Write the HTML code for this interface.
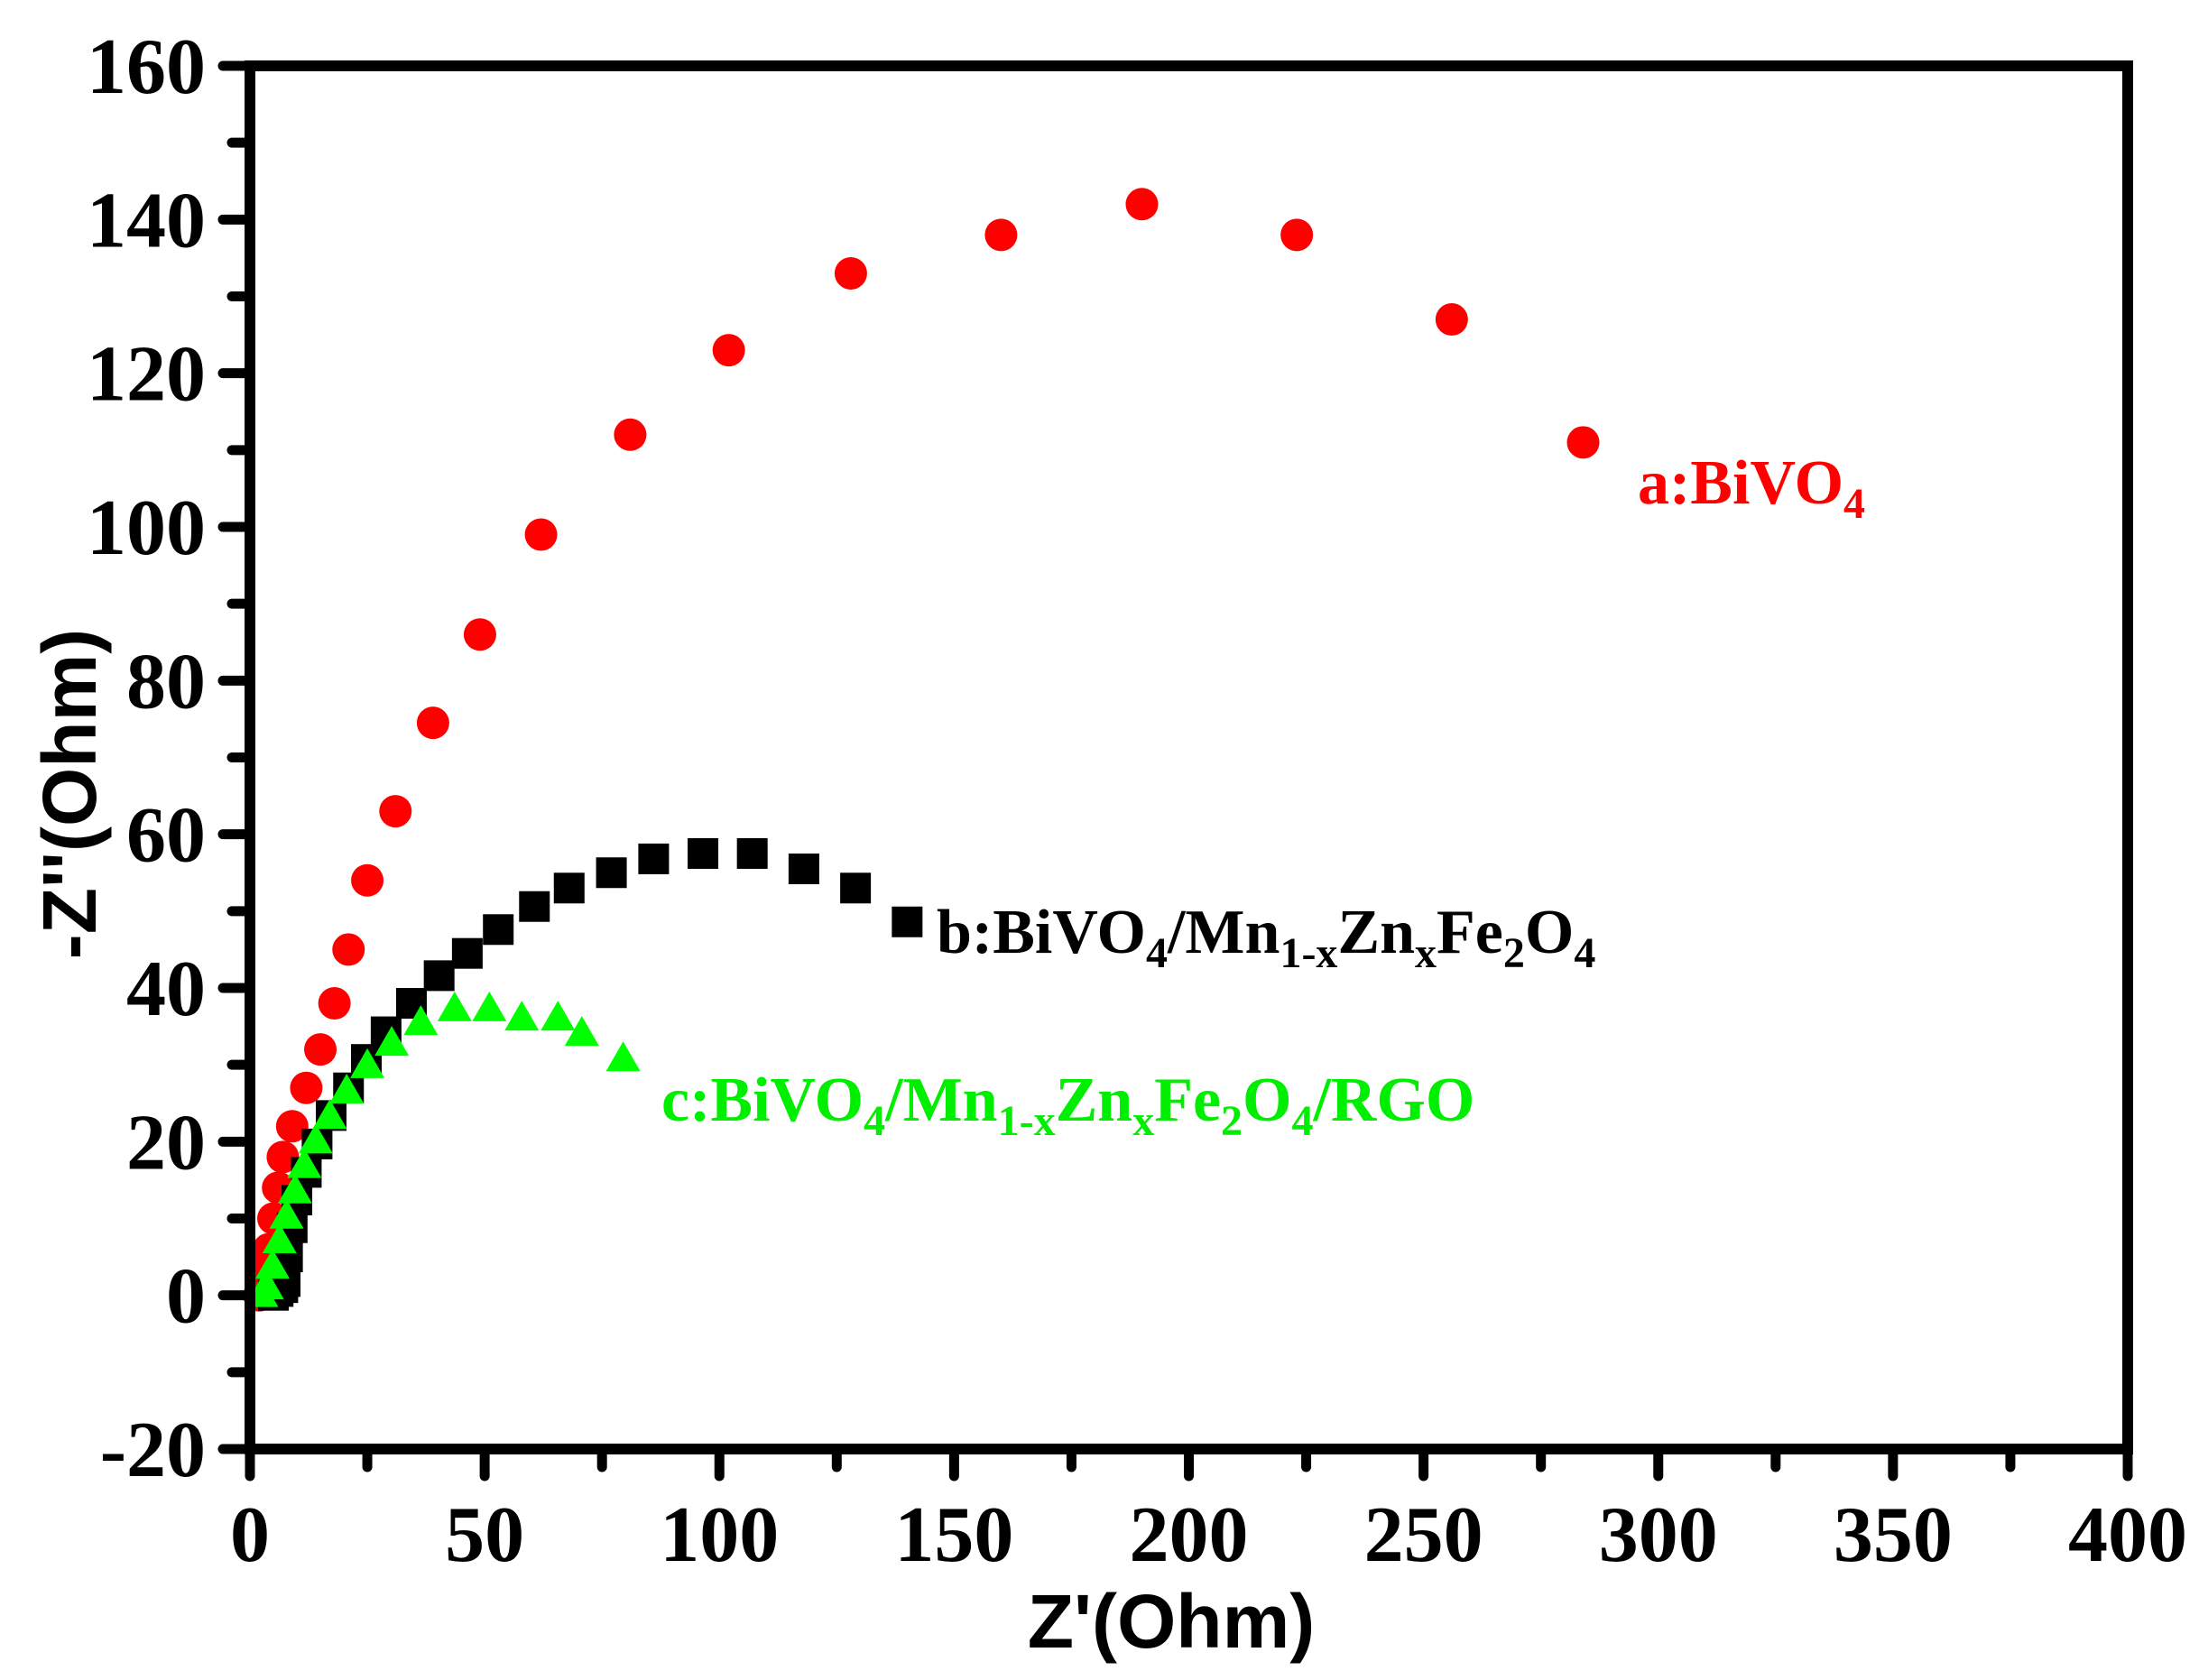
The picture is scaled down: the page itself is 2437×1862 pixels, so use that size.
<!DOCTYPE html>
<html><head><meta charset="utf-8"><style>
html,body{margin:0;padding:0;background:#fff;}
svg{display:block;}
.tk{font-family:"Liberation Serif",serif;font-weight:bold;font-size:88px;fill:#000;}
.ttl{font-family:"Liberation Sans",sans-serif;font-weight:bold;font-size:84px;fill:#000;}
.lg{font-family:"Liberation Serif",serif;font-weight:bold;font-size:70px;}
</style></head><body>
<svg id="chart" width="2437" height="1862" viewBox="0 0 2437 1862">
<g id="marks"></g>
<g id="axes"></g>
<text class="lg" x="1815" y="558" fill="#ff0000">a:BiVO<tspan font-size="48" dy="16">4</tspan></text>
<text class="lg" x="1038" y="1056" fill="#000">b:BiVO<tspan font-size="48" dy="16">4</tspan><tspan dy="-16">/Mn</tspan><tspan font-size="48" dy="16">1-x</tspan><tspan dy="-16">Zn</tspan><tspan font-size="48" dy="16">x</tspan><tspan dy="-16">Fe</tspan><tspan font-size="48" dy="16">2</tspan><tspan dy="-16">O</tspan><tspan font-size="48" dy="16">4</tspan></text>
<text class="lg" x="733" y="1242" fill="#00ee00">c:BiVO<tspan font-size="48" dy="16">4</tspan><tspan dy="-16">/Mn</tspan><tspan font-size="48" dy="16">1-x</tspan><tspan dy="-16">Zn</tspan><tspan font-size="48" dy="16">x</tspan><tspan dy="-16">Fe</tspan><tspan font-size="48" dy="16">2</tspan><tspan dy="-16">O</tspan><tspan font-size="48" dy="16">4</tspan><tspan dy="-16">/RGO</tspan></text>
<text class="ttl" x="1298" y="1826" text-anchor="middle">Z'(Ohm)</text>
<text class="ttl" transform="translate(106,880) rotate(-90)" text-anchor="middle">-Z''(Ohm)</text>
</svg>
<script>
const xTicks=[0,50,100,150,200,250,300,350,400];
const yTicks=[-20,0,20,40,60,80,100,120,140,160];
const redX=[2,3,4,5,6,7,9,12,15,18,21,25,31,39,49,62,81,102,128,160,190,223,256,284];
const redY=[0,3,6,10,14,18,22,27,32,38,45,54,63,74.5,86,99,112,123,133,138,142,138,127,111];
const blackX=[5,6,7,7.5,8,9,10,12,14.3,17.3,21,24.8,29,34.4,40.3,46.3,52.9,60.6,68,77,86,96.5,107,118,129,140];
const blackY=[0,0.5,1,1.8,5,8.8,12.4,16,19.7,23.4,27,30.7,34.3,38,41.6,44.5,47.6,50.6,53,55,56.8,57.5,57.5,55.5,53,48.6];
const greenX=[2.4,3.6,4.8,6.3,7.8,9.6,11.6,14,17,20.6,25,30.2,36.4,43.6,51,57.9,65.6,70.7,79.5];
const greenY=[0,1,3.7,7,10.2,13.5,16.8,20,23.2,26.5,29.8,32.7,35.4,37.2,37.2,36,36,34,30.7];
const X0=277,X1=2358,Y0=1606,Y1=73;
const sx=v=>X0+(v-0)/(400-0)*(X1-X0);
const sy=v=>Y0-(v+20)/(160+20)*(Y0-Y1);
const NS="http://www.w3.org/2000/svg";
const marks=document.getElementById('marks'),axes=document.getElementById('axes');
function mk(t,a,p){const e=document.createElementNS(NS,t);for(const k in a)e.setAttribute(k,a[k]);p.appendChild(e);return e;}
redX.forEach((x,i)=>{const e=mk('circle',{cx:sx(x),cy:sy(redY[i]),r:18,fill:'#ff0000'},marks);

});
blackX.forEach((x,i)=>{const e=mk('rect',{x:sx(x)-17,y:sy(blackY[i])-17,width:34,height:34,fill:'#000'},marks);

});
greenX.forEach((x,i)=>{const cx=sx(x),cy=sy(greenY[i]);const e=mk('polygon',{points:`${cx},${cy-20} ${cx+19},${cy+13} ${cx-19},${cy+13}`,fill:'#00ff00'},marks);

});
const fr=mk('rect',{x:X0,y:Y1,width:X1-X0,height:Y0-Y1,fill:'none',stroke:'#000','stroke-width':12},axes);


xTicks.forEach((v,i)=>{const x=sx(v);mk('line',{x1:x,y1:Y0,x2:x,y2:Y0+30,stroke:'#000','stroke-width':11,'stroke-linecap':'round'},axes);
if(i<xTicks.length-1){const xm=sx(v+25);mk('line',{x1:xm,y1:Y0,x2:xm,y2:Y0+20,stroke:'#000','stroke-width':11,'stroke-linecap':'round'},axes);}
const t=mk('text',{x:x,y:1730,'text-anchor':'middle',class:'tk'},axes);t.textContent=v;

});
yTicks.forEach((v,i)=>{const y=sy(v);mk('line',{x1:X0,y1:y,x2:X0-30,y2:y,stroke:'#000','stroke-width':11,'stroke-linecap':'round'},axes);
if(i<yTicks.length-1){const ym=sy(v+10);mk('line',{x1:X0,y1:ym,x2:X0-20,y2:ym,stroke:'#000','stroke-width':11,'stroke-linecap':'round'},axes);}
const t=mk('text',{x:228,y:y+30,'text-anchor':'end',class:'tk'},axes);t.textContent=v;

});
</script>
</body></html>
